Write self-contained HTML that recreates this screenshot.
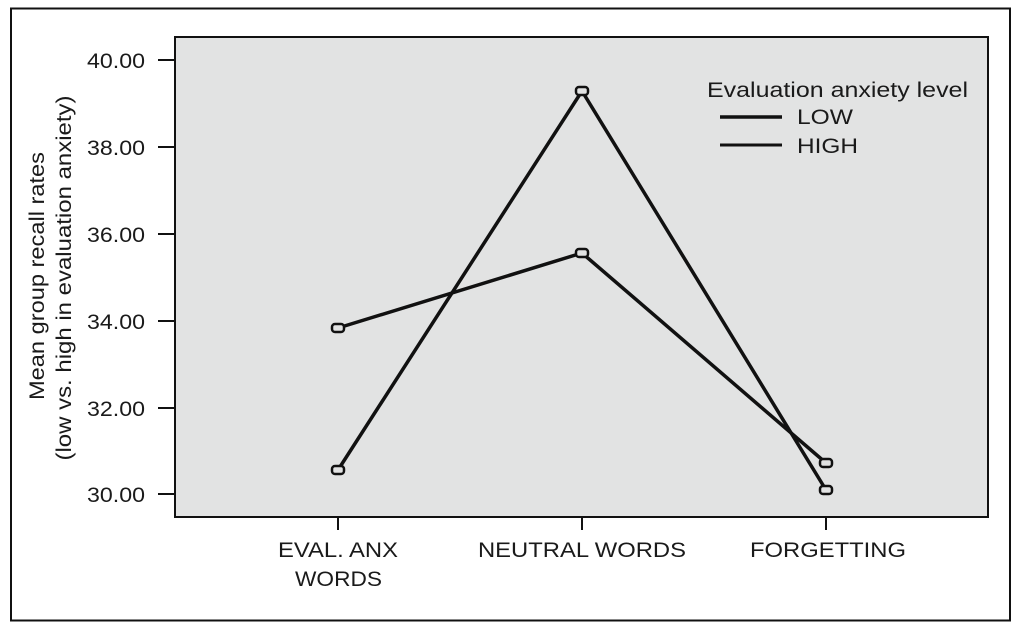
<!DOCTYPE html>
<html><head><meta charset="utf-8"><style>
html,body{margin:0;padding:0;background:#fff;width:1024px;height:634px;overflow:hidden}
svg{display:block}
text{font-family:"Liberation Sans",Arial,sans-serif;fill:#1a1a1a}
</style></head><body>
<svg width="1024" height="634" viewBox="0 0 1024 634" xmlns="http://www.w3.org/2000/svg">
<rect x="11" y="8.5" width="999" height="612" fill="#fff" stroke="#111" stroke-width="2"/>
<rect x="175" y="37" width="813" height="480" fill="#e2e3e3" stroke="#111" stroke-width="2"/>
<g stroke="#111" stroke-width="2">
<line x1="158" y1="60" x2="175" y2="60"/>
<line x1="158" y1="147" x2="175" y2="147"/>
<line x1="158" y1="234" x2="175" y2="234"/>
<line x1="158" y1="321" x2="175" y2="321"/>
<line x1="158" y1="408" x2="175" y2="408"/>
<line x1="158" y1="494" x2="175" y2="494"/>
<line x1="338" y1="517" x2="338" y2="530"/>
<line x1="582" y1="517" x2="582" y2="530"/>
<line x1="826" y1="517" x2="826" y2="530"/>
</g>
<g font-size="21">
<text x="87" y="68" textLength="58" lengthAdjust="spacingAndGlyphs">40.00</text>
<text x="87" y="155" textLength="58" lengthAdjust="spacingAndGlyphs">38.00</text>
<text x="87" y="242" textLength="58" lengthAdjust="spacingAndGlyphs">36.00</text>
<text x="87" y="329" textLength="58" lengthAdjust="spacingAndGlyphs">34.00</text>
<text x="87" y="416" textLength="58" lengthAdjust="spacingAndGlyphs">32.00</text>
<text x="87" y="502" textLength="58" lengthAdjust="spacingAndGlyphs">30.00</text>
</g>
<g font-size="21">
<text x="278" y="557" textLength="120" lengthAdjust="spacingAndGlyphs">EVAL. ANX</text>
<text x="295" y="586" textLength="87" lengthAdjust="spacingAndGlyphs">WORDS</text>
<text x="478" y="557" textLength="208" lengthAdjust="spacingAndGlyphs">NEUTRAL WORDS</text>
<text x="750" y="557" textLength="156" lengthAdjust="spacingAndGlyphs">FORGETTING</text>
</g>
<g font-size="21" text-anchor="middle">
<text transform="translate(44,276) rotate(-90)" textLength="248" lengthAdjust="spacingAndGlyphs">Mean group recall rates</text>
<text transform="translate(71,278) rotate(-90)" textLength="365" lengthAdjust="spacingAndGlyphs">(low vs. high in evaluation anxiety)</text>
</g>
<g fill="none" stroke="#111" stroke-width="3.5" stroke-linejoin="round">
<polyline points="338,470 582,91 826,490"/>
<polyline points="338,328 582,253 826,463"/>
</g>
<g fill="#e2e3e3" stroke="#111" stroke-width="2.5">
<rect x="332" y="466" width="12" height="8" rx="3"/>
<rect x="576" y="87" width="12" height="8" rx="3"/>
<rect x="820" y="486" width="12" height="8" rx="3"/>
<rect x="332" y="324" width="12" height="8" rx="3"/>
<rect x="576" y="249" width="12" height="8" rx="3"/>
<rect x="820" y="459" width="12" height="8" rx="3"/>
</g>
<text x="707" y="97" font-size="21" textLength="261" lengthAdjust="spacingAndGlyphs">Evaluation anxiety level</text>
<line x1="720" y1="117" x2="782" y2="117" stroke="#111" stroke-width="3.5"/>
<line x1="720" y1="145" x2="782" y2="145" stroke="#111" stroke-width="3"/>
<text x="797" y="124" font-size="21" textLength="56" lengthAdjust="spacingAndGlyphs">LOW</text>
<text x="797" y="153" font-size="21" textLength="61" lengthAdjust="spacingAndGlyphs">HIGH</text>
</svg>
</body></html>
